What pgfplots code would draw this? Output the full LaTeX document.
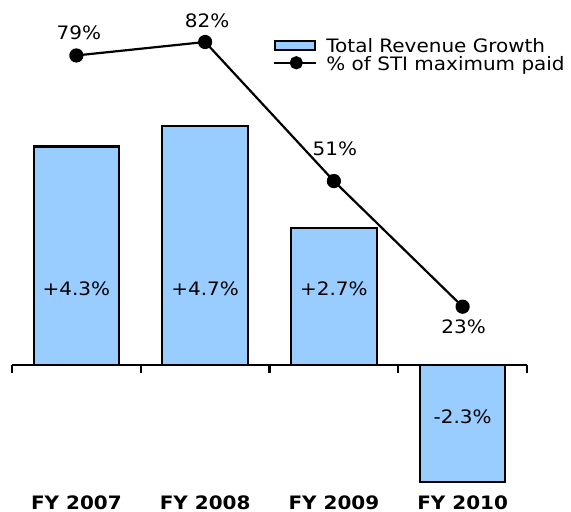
\documentclass[border=0pt]{standalone}
\usepackage{pgfplots}
\pgfplotsset{compat=1.18}
\usepackage{fontspec}
\setmainfont{DejaVu Sans}[FakeStretch=1.08]
\definecolor{barblue}{HTML}{99CCFF}
\newcommand{\lbl}{\fontsize{18.5}{21}\selectfont}
\begin{document}
\begin{tikzpicture}
% bars: revenue growth (left scale, hidden)
\begin{axis}[at={(12pt,28pt)}, anchor=south west, scale only axis,
    width=515pt, height=464pt,
    xmin=-0.5, xmax=3.5, ymin=-2.343, ymax=6.791,
    axis line style={draw=none}, major tick length=0pt,
    xtick={0,1,2,3}, xticklabels={FY 2007,FY 2008,FY 2009,FY 2010},
    xticklabel style={font=\lbl\bfseries, anchor=base, inner sep=0pt, yshift=-25.5pt},
    ytick=\empty, clip=false]
  \addplot[ybar, bar width=0.664, fill=barblue, draw=black, line width=2.2pt]
    coordinates {(0,4.3) (1,4.7) (2,2.7) (3,-2.3)};
  \draw[line width=2.2pt] (axis cs:-0.5,0) -- (axis cs:3.5,0);
  \pgfplotsinvokeforeach{-0.5,0.5,1.5,2.5,3.5}{
    \draw[line width=2.2pt] (axis cs:#1,0) -- ([yshift=-8pt]axis cs:#1,0);}
  \node[font=\lbl, inner sep=0pt] at (axis cs:0,1.496) {+4.3\%};
  \node[font=\lbl, inner sep=0pt] at (axis cs:1,1.496) {+4.7\%};
  \node[font=\lbl, inner sep=0pt] at (axis cs:2,1.496) {+2.7\%};
  \node[font=\lbl, inner sep=0pt] at (axis cs:3,-1.024) {-2.3\%};
\end{axis}
% line: % of STI maximum paid (right scale, hidden)
\begin{axis}[at={(12pt,28pt)}, anchor=south west, scale only axis,
    width=515pt, height=464pt,
    xmin=-0.5, xmax=3.5, ymin=-16.53, ymax=86.904,
    hide axis, clip=false,
    legend style={at={(0.5068,0.958)}, anchor=north west, draw=none, fill=none,
      inner sep=0pt, row sep=-1.5pt, column sep=9pt, font=\lbl,
      nodes={inner sep=0pt, text height=13pt, text depth=5pt}},
    legend cell align=left]
  \addlegendimage{legend image code/.code={
    \draw[fill=barblue, draw=black, line width=2pt] (1pt,-1pt) rectangle (41pt,8pt);}}
  \addlegendentry{Total Revenue Growth}
  \addplot[black, line width=2.2pt, mark=*, mark size=6pt,
    legend image code/.code={
      \draw[black, line width=2.2pt] (0pt,3.5pt) -- (42pt,3.5pt);
      \fill[black] (22pt,3.5pt) circle (5.5pt);}]
    coordinates {(0,79) (1,82) (2,51) (3,23)};
  \addlegendentry{\% of STI maximum paid}
  \node[font=\lbl, inner sep=0pt] at (axis cs:0,79) [xshift=2.5pt, yshift=23pt] {79\%};
  \node[font=\lbl, inner sep=0pt] at (axis cs:1,82) [xshift=2pt, yshift=21pt] {82\%};
  \node[font=\lbl, inner sep=0pt] at (axis cs:2,51) [xshift=1pt, yshift=32pt] {51\%};
  \node[font=\lbl, inner sep=0pt] at (axis cs:3,23) [xshift=1pt, yshift=-20pt] {23\%};
\end{axis}
\pgfresetboundingbox
\useasboundingbox (0,0) rectangle (571pt,512pt);
\end{tikzpicture}
\end{document}
